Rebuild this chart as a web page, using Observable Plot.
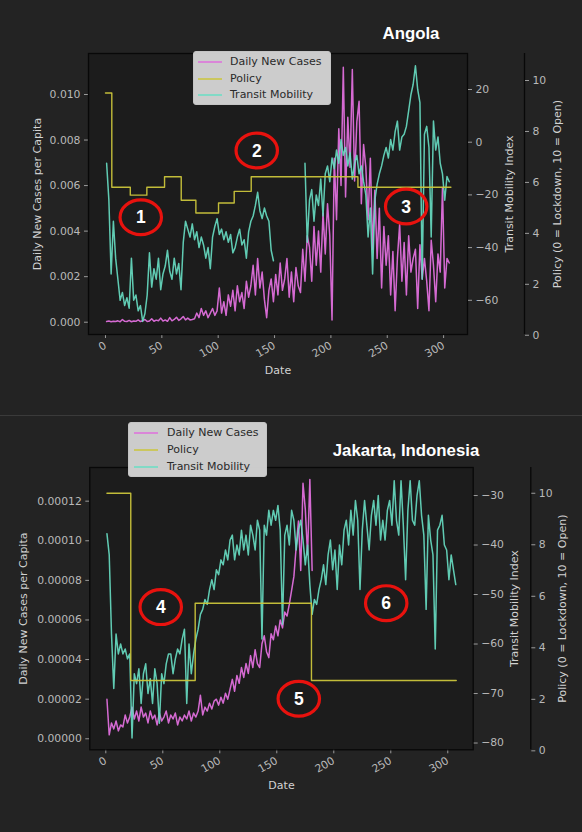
<!DOCTYPE html>
<html>
<head>
<meta charset="utf-8">
<script src="https://cdn.jsdelivr.net/npm/d3@7"></script>
<script src="https://cdn.jsdelivr.net/npm/@observablehq/plot@0.6"></script>
<style>
  html, body { margin: 0; padding: 0; background: #232323; }
  #root { position: relative; width: 582px; height: 832px; background: #232323; overflow: hidden; }
  .panel { position: absolute; left: 0; width: 582px; }
  .panel svg { position: absolute; left: 0; top: 0; }
  .sep { position: absolute; left: 0; width: 582px; height: 1px; background: #3a3a3a; }
  .title { position: absolute; font-family: "Liberation Sans", Arial, sans-serif; font-weight: bold; font-size: 16.8px; color: #ffffff; transform: translate(-50%, -50%); white-space: nowrap; }
  .legend { position: absolute; background: rgba(214,214,214,0.95); border-radius: 3px; border: 1px solid #c4c4c4; box-sizing: border-box; }
  .legend .sw { position: absolute; height: 2px; width: 24px; }
  .legend .lt { position: absolute; font-family: "DejaVu Sans", sans-serif; font-size: 11px; line-height: 13px; color: #2a2a2a; white-space: nowrap; }
</style>
</head>
<body>
<div id="root"></div>
<script>
// ---------------- data ----------------
const xTicks = [0, 50, 100, 150, 200, 250, 300];
const policyTicks = [0, 2, 4, 6, 8, 10];
const firstDay = 1, dayStep = 2;

// Angola (days 1, 3, ..., 305)
const angolaCases = [
  0.00003, 0.00005, 0.00002, 0.00004, 0.00003, 0.00006, 0.00002, 0.00012, 0.00004, 0.00003,
  0.00008, 0.00002, 0.00005, 0.00004, 0.0001, 0.00003, 0.00006, 0.00012, 0.00003, 0.00005,
  0.00015, 0.00004, 0.00009, 0.00006, 0.00018, 0.00005, 0.0001, 0.00004, 0.0002, 0.00006,
  0.00012, 0.00022, 0.00008, 0.00015, 0.00025, 0.0001, 0.00018, 0.0001, 0.00012, 0.00015,
  0.0004, 0.0002, 0.0006, 0.0003, 0.0005, 0.0002, 0.0004, 0.0006, 0.0003, 0.0005,
  0.0015, 0.0004, 0.0009, 0.0003, 0.0012, 0.0007, 0.0014, 0.0005, 0.0016, 0.0009, 0.0013, 0.0006, 0.0018, 0.0011, 0.0016,
  0.0025, 0.0012, 0.0028, 0.0015, 0.0022, 0.001, 0.0002, 0.0014, 0.0019, 0.0009,
  0.0021, 0.0012, 0.0026, 0.0014, 0.0019, 0.0028, 0.0011, 0.0022, 0.0009, 0.0024, 0.0016, 0.0013, 0.0032, 0.0018, 0.0038,
  0.0033, 0.0018, 0.0042, 0.0025, 0.004, 0.0022, 0.0048, 0.003, 0.0052, 0.0038,
  0.0001, 0.0072, 0.0045, 0.0085, 0.006, 0.0112, 0.0055, 0.009, 0.0068, 0.0111, 0.0062, 0.0088, 0.0097, 0.0052, 0.0078,
  0.0068, 0.0045, 0.0072, 0.0032, 0.0058, 0.0028, 0.005, 0.0015, 0.0042, 0.0025, 0.0038, 0.0012, 0.0031, 0.0005, 0.0028,
  0.0043, 0.0018, 0.0035, 0.0012, 0.0038, 0.0022, 0.0028, 0.0032, 0.0006, 0.0034, 0.0019, 0.0028, 0.0018, 0.0005, 0.0036,
  0.0025, 0.0009, 0.003, 0.0022, 0.0059, 0.0015, 0.0028, 0.0026
];
const angolaMobility = [
  -8, -22, -50, -30, -44, -52, -60, -57, -62, -59,
  -63, -44, -60, -58, -64, -62, -68, -65, -58, -42,
  -55, -48, -52, -44, -56, -50, -47, -41, -49, -52,
  -44, -50, -46, -56, -38, -30, -33, -36, -31, -37,
  -34, -40, -36, -39, -44, -40, -48, -36, -32, -29,
  -35, -33, -37, -34, -38, -35, -42, -40, -36, -33,
  -39, -37, -44, -34, -30, -28, -24, -19, -26, -29,
  -25, -28, -30, -41, -45,
  NaN, NaN, NaN, NaN, NaN, NaN, NaN, NaN, NaN, NaN, NaN, NaN, NaN,
  -8, -38, -22, -18, -30, -20, -24, -14, -28, -12,
  -9, -15, -6, -10, -3, -8, 1, -5, -2, -9,
  -4, -14, -8, -5, -12, -9, -15, -20, -36, -25,
  -50, -22, -16, -12, -9, -5, -2, -6, 1, -3,
  4, 8, -3, 2, 3, 6, 12, 18, 22, 29,
  20, 15, -52, 3, 6, -2, -36, 8, -3, 2,
  -8, -12, -22, -13, -15
];
const angolaPolicyDays   = [0, 5.6, 22, 36.7, 52.4, 67.2, 80.2, 100.3, 114.2, 129.3, 224, 306.5];
const angolaPolicyValues = [9.51, 5.81, 5.5, 5.81, 6.22, 5.3, 4.8, 5.19, 5.65, 6.22, 5.81, 5.81];
const angolaCaseTicks = [0, 0.002, 0.004, 0.006, 0.008, 0.010];
const angolaMobilityTicks = [-60, -40, -20, 0, 20];
const angolaNotes = [
  {label: "1", day: 31.3, cases: 0.00461},
  {label: "2", day: 134.2, cases: 0.00754},
  {label: "3", day: 266.8, cases: 0.00508}
];

// Jakarta (days 1, 3, ...); cases per million people
const jakartaCasesPerMillion = [
  20, 2, 8, 5, 9, 4, 7, 6, 12, 8,
  11, 16, 10, 14, 9, 16, 11, 13, 8, 14,
  10, 12, 7, 13, 9, 11, 14, 8, 12, 10,
  13, 7, 11, 9, 12, 10, 14, 9, 13, 11,
  14, 22, 12, 16, 14, 18, 15, 19, 20, 17,
  21, 18, 23, 20, 25, 30, 24, 32, 28, 36,
  31, 38, 33, 42, 36, 45, 38, 36, 48, 52,
  44, 41, 53, 50, 57, 52, 60, 56, 64, 62,
  68, 75, 82, 97, 110, 85, 129, 116, 93, 131,
  85
];
const jakartaMobility = [
  -37.7, -42, -58, -69, -58, -62, -60, -62, -61, -63,
  -62, -79, -66, -68, -65, -72, -66, -64, -70, -67,
  -72, -65, -68, -76, -66, -68, -64, -62, -62, -66,
  -63, -61, -62, -59, -57, -72, -60, -66, -62, -59,
  -57, -54, -53, -51, -52, -49, -47, -49, -45, -46,
  -43, -44, -41, -43, -39, -38, -43, -40, -42, -37,
  -41, -38, -42, -36, -38, -41, -35, -37, -59, -36,
  -38, -33, -36, -33, -35, -32, -37, -56, -38, -36,
  -40, -33, -35, -41, -37, -35, -39, -44, -40, -48,
  -54, -51, -52, -49, -47, -44, -48, -42, -39, -45,
  -41, -49, -40, -44, -37, -35, -40, -33, -38, -31,
  -35, -49, -37, -31, -36, -41, -34, -31, -36, -30,
  -39, -35, -39, -33, -31, -36, -27, -35, -38, -27,
  -36, -47, -33, -27, -35, -36, -30, -27, -34, -38,
  -53, -34, -39, -42, -61, -37, -36, -34, -40, -41,
  -47, -42, -45, -48
];
const jakartaPolicyDays   = [1, 21.9, 78.4, 180.4, 307.4];
const jakartaPolicyValues = [10, 2.73, 5.73, 2.73, 2.73];
const jakartaCaseTicks = [0, 0.00002, 0.00004, 0.00006, 0.00008, 0.00010, 0.00012];
const jakartaMobilityTicks = [-80, -70, -60, -50, -40, -30];
const jakartaNotes = [
  {label: "4", day: 48.2, cases: 0.0000665},
  {label: "5", day: 169.3, cases: 0.0000202},
  {label: "6", day: 246, cases: 0.0000685}
];

const legendItems = ["Daily New Cases", "Policy", "Transit Mobility"];

// ---------------- styling ----------------
const C_CASES = "#df6fdc", C_POLICY = "#cbc53b", C_MOB = "#68dfc4";
const TICK_TEXT = "#b9b9b9", LABEL_TEXT = "#d2d2d2", TICK_LINE = "#9c9c9c";

const ellipseSymbol = {
  draw(ctx, size) {
    const r = Math.sqrt(size / Math.PI), rx = r * 1.19, ry = r, k = 0.5523;
    ctx.moveTo(rx, 0);
    ctx.bezierCurveTo(rx, k * ry, k * rx, ry, 0, ry);
    ctx.bezierCurveTo(-k * rx, ry, -rx, k * ry, -rx, 0);
    ctx.bezierCurveTo(-rx, -k * ry, -k * rx, -ry, 0, -ry);
    ctx.bezierCurveTo(k * rx, -ry, rx, -k * ry, rx, 0);
    ctx.closePath();
  }
};

function buildPanel(cfg) {
  const root = document.getElementById("root");
  const div = document.createElement("div");
  div.className = "panel";
  div.style.top = cfg.top + "px";
  div.style.height = cfg.height + "px";
  root.appendChild(div);

  const series = cfg.mobility.map((m, i) => ({day: firstDay + i * dayStep, mobility: m}));
  const cases = cfg.cases.map((c, i) => ({day: firstDay + i * dayStep, cases: c}));
  const policy = cfg.policyDays.map((d, i) => ({day: d, policy: cfg.policyValues[i]}));

  const base = {
    width: 582, height: cfg.height,
    marginTop: cfg.mt, marginBottom: cfg.mb, marginLeft: cfg.ml,
    style: {background: "transparent", color: TICK_TEXT, fontFamily: "DejaVu Sans, sans-serif", fontSize: "10.8px", overflow: "visible"}
  };
  const xInner = {domain: [cfg.x0, cfg.x1]};

  const A = Plot.plot({
    ...base, marginRight: 582 - cfg.xr, x: xInner, y: {domain: cfg.casesDomain},
    marks: [
      Plot.frame({fill: "#1c1c1c", stroke: "none"}),
      Plot.axisY({ticks: cfg.caseTicks, tickFormat: d3.format(cfg.caseFmt), tickSize: 4, tickPadding: 4, label: null, stroke: TICK_LINE, fill: TICK_TEXT}),
      Plot.axisX({ticks: xTicks, tickFormat: d3.format("d"), tickRotate: -30, tickSize: 4, tickPadding: 6, label: null, stroke: TICK_LINE, fill: TICK_TEXT}),
      Plot.line(cases, {x: "day", y: "cases", stroke: C_CASES, strokeWidth: 1.5, strokeOpacity: 0.95}),
      Plot.text([cfg.casesLabel], {text: d => d, frameAnchor: "left", textAnchor: "middle", dx: cfg.leftLabelDx, rotate: -90, fill: LABEL_TEXT, fontSize: 11}),
      Plot.text(["Date"], {text: d => d, frameAnchor: "bottom", textAnchor: "middle", dy: cfg.dateDy, fill: LABEL_TEXT, fontSize: 11})
    ]
  });

  const B = Plot.plot({
    ...base, marginRight: 582 - cfg.xr, x: {...xInner, axis: null}, y: {domain: cfg.mobDomain},
    marks: [
      Plot.line(series, {x: "day", y: "mobility", stroke: C_MOB, strokeWidth: 1.5, strokeOpacity: 0.9}),
      Plot.frame({stroke: "#080808", strokeWidth: 1.3}),
      Plot.axisY({anchor: "right", ticks: cfg.mobTicks, tickFormat: d3.format("d"), tickSize: 4, tickPadding: 4, label: null, stroke: TICK_LINE, fill: TICK_TEXT}),
      Plot.text(["Transit Mobility Index"], {text: d => d, frameAnchor: "right", textAnchor: "middle", dx: cfg.mobLabelDx, rotate: -90, fill: LABEL_TEXT, fontSize: 11})
    ]
  });

  // policy plot: same pixel/day ratio, frame extended to the outer spine
  const C = Plot.plot({
    ...base, marginRight: 582 - cfg.xOuter, x: {domain: [cfg.x0, cfg.x2], axis: null}, y: {domain: cfg.polDomain},
    marks: [
      Plot.line(policy, {x: "day", y: "policy", curve: "step-after", stroke: C_POLICY, strokeWidth: 1.4, strokeOpacity: 0.95}),
      Plot.ruleX([cfg.x2], {stroke: "#080808", strokeWidth: 1.3}),
      Plot.axisY({anchor: "right", ticks: policyTicks, tickFormat: d3.format("d"), tickSize: 4, tickPadding: 4, label: null, stroke: TICK_LINE, fill: TICK_TEXT}),
      Plot.text(["Policy (0 = Lockdown, 10 = Open)"], {text: d => d, frameAnchor: "right", textAnchor: "middle", dx: cfg.polLabelDx, rotate: -90, fill: LABEL_TEXT, fontSize: 11})
    ]
  });

  const D = Plot.plot({
    ...base, marginRight: 582 - cfg.xr, x: {...xInner, axis: null}, y: {domain: cfg.casesDomain, axis: null},
    marks: [
      Plot.dot(cfg.notes, {x: "day", y: "cases", symbol: ellipseSymbol, r: 17.4, stroke: "#e8120e", strokeWidth: 3.2, fill: "none"}),
      Plot.text(cfg.notes, {x: "day", y: "cases", text: "label", fill: "#ffffff", fontSize: 17.5, fontWeight: "bold", fontFamily: "Liberation Sans, Arial, sans-serif", dy: 0.5})
    ]
  });

  [A, B, C, D].forEach(s => div.appendChild(s));

  const t = document.createElement("div");
  t.className = "title";
  t.textContent = cfg.title;
  t.style.left = cfg.titleX + "px";
  t.style.top = cfg.titleY + "px";
  div.appendChild(t);

  const lg = document.createElement("div");
  lg.className = "legend";
  Object.assign(lg.style, {left: cfg.lg.x + "px", top: cfg.lg.y + "px", width: cfg.lg.w + "px", height: cfg.lg.h + "px"});
  [C_CASES, C_POLICY, C_MOB].forEach((col, i) => {
    const sw = document.createElement("div");
    sw.className = "sw";
    Object.assign(sw.style, {left: cfg.lg.swX + "px", top: Math.round(cfg.lg.rows[i] - 1) + "px", background: col, opacity: 0.75});
    lg.appendChild(sw);
    const tx = document.createElement("div");
    tx.className = "lt";
    tx.textContent = legendItems[i];
    Object.assign(tx.style, {left: cfg.lg.textX + "px", top: (cfg.lg.rows[i] - 7.5) + "px"});
    lg.appendChild(tx);
  });
  div.appendChild(lg);
}

buildPanel({
  top: 0, height: 415, mt: 53, mb: 81, ml: 88, xr: 467, xOuter: 524,
  x0: -15.08, x1: 321.2, x2: 371.8,
  casesDomain: [-0.00054, 0.0118], mobDomain: [-72.98, 33.66], polDomain: [0.03, 11.06],
  cases: angolaCases, mobility: angolaMobility,
  policyDays: angolaPolicyDays, policyValues: angolaPolicyValues,
  caseTicks: angolaCaseTicks, caseFmt: ".3f", mobTicks: angolaMobilityTicks,
  casesLabel: "Daily New Cases per Capita", leftLabelDx: -51, dateDy: 39, mobLabelDx: 42, polLabelDx: 32.5,
  notes: angolaNotes,
  title: "Angola", titleX: 411, titleY: 34,
  lg: {x: 193, y: 51, w: 138, h: 54, swX: 4, textX: 36, rows: [10, 27, 43]}
});

const sep = document.createElement("div");
sep.className = "sep";
sep.style.top = "415px";
document.getElementById("root").appendChild(sep);

buildPanel({
  top: 416, height: 416, mt: 51, mb: 82.7, ml: 89.3, xr: 472.7, xOuter: 530.3,
  x0: -14.04, x1: 322.3, x2: 372.8,
  casesDomain: [-0.00000556, 0.000137], mobDomain: [-81.37, -24.34], polDomain: [0.04, 11.0],
  cases: jakartaCasesPerMillion.map(v => v / 1e6), mobility: jakartaMobility,
  policyDays: jakartaPolicyDays, policyValues: jakartaPolicyValues,
  caseTicks: jakartaCaseTicks, caseFmt: ".5f", mobTicks: jakartaMobilityTicks,
  casesLabel: "Daily New Cases per Capita", leftLabelDx: -66.8, dateDy: 39, mobLabelDx: 41.3, polLabelDx: 31.2,
  notes: jakartaNotes,
  title: "Jakarta, Indonesia", titleX: 406, titleY: 35,
  lg: {x: 128, y: 6, w: 139, h: 55, swX: 5, textX: 38, rows: [10, 27, 44]}
});
</script>
</body>
</html>
